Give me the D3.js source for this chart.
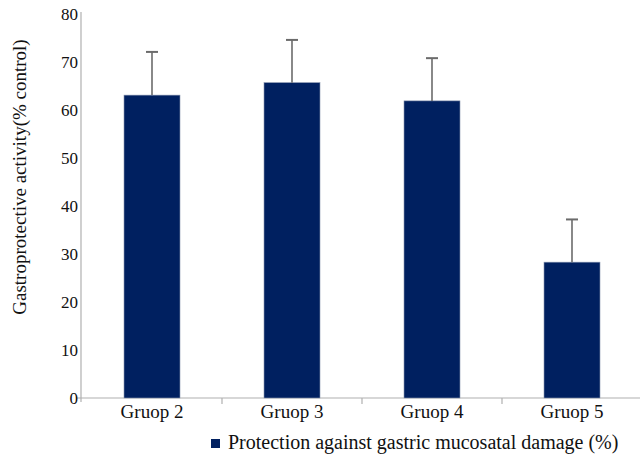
<!DOCTYPE html>
<html>
<head>
<meta charset="utf-8">
<script src="https://cdn.jsdelivr.net/npm/d3@7"></script>
<style>
  body { margin: 0; background: #fff; }
  svg text { font-family: "Liberation Serif"; fill: #111; }
</style>
</head>
<body>
<div id="chart"></div>
<script>
// values
const groups = ["Gruop 2", "Gruop 3", "Gruop 4", "Gruop 5"];
const protection = [63.1, 65.7, 61.9, 28.3];
const errors = [9.0, 8.9, 8.9, 8.9];
const yTicks = [0, 10, 20, 30, 40, 50, 60, 70, 80];

const width = 640;
const height = 458;
const barColor = "#002060";
const axisColor = "#b0b0b0";

const svg = d3.select("#chart")
    .append("svg")
    .attr("width", width)
    .attr("height", height);

const x = d3.scaleBand()
    .domain(groups)
    .range([82, 642])
    .paddingInner(0.6)
    .paddingOuter(0.3);

const y = d3.scaleLinear()
    .domain([0, 80])
    .range([398, 14]);

// axes
svg.append("line")
    .attr("x1", 81).attr("x2", 81)
    .attr("y1", y(80) - 2).attr("y2", y(0))
    .attr("stroke", axisColor).attr("stroke-width", 1.2);

svg.append("line")
    .attr("x1", 76).attr("x2", width)
    .attr("y1", y(0)).attr("y2", y(0))
    .attr("stroke", axisColor).attr("stroke-width", 1.2);

// category separators below the x axis
const step = x.step();
svg.selectAll(".sep")
    .data(groups.slice(1))
    .enter().append("line")
    .attr("x1", d => x(d) - step * 0.3)
    .attr("x2", d => x(d) - step * 0.3)
    .attr("y1", y(0)).attr("y2", y(0) + 6)
    .attr("stroke", axisColor).attr("stroke-width", 1.2);

svg.append("line")
    .attr("x1", 81).attr("x2", 81)
    .attr("y1", y(0)).attr("y2", y(0) + 4)
    .attr("stroke", axisColor).attr("stroke-width", 1.2);

svg.selectAll(".ytick")
    .data(yTicks)
    .enter().append("text")
    .attr("x", 78)
    .attr("y", d => y(d) + 6)
    .attr("text-anchor", "end")
    .style("font-size", "17px")
    .text(d => d);

svg.selectAll(".xlabel")
    .data(groups)
    .enter().append("text")
    .attr("x", d => x(d) + x.bandwidth() / 2)
    .attr("y", 418)
    .attr("text-anchor", "middle")
    .style("font-size", "19px")
    .text(d => d);

// bars
svg.selectAll(".bar")
    .data(groups)
    .enter().append("rect")
    .attr("x", d => x(d))
    .attr("y", (d, i) => y(protection[i]))
    .attr("width", x.bandwidth())
    .attr("height", (d, i) => y(0) - y(protection[i]))
    .attr("fill", barColor)
    .attr("stroke", "#8a96b0")
    .attr("stroke-width", 0.6);

// error bars (upper only)
const err = svg.selectAll(".err")
    .data(groups)
    .enter().append("g");

err.append("line")
    .attr("x1", d => x(d) + x.bandwidth() / 2)
    .attr("x2", d => x(d) + x.bandwidth() / 2)
    .attr("y1", (d, i) => y(protection[i]))
    .attr("y2", (d, i) => y(protection[i] + errors[i]))
    .attr("stroke", "#6b6b6b").attr("stroke-width", 1.6);

err.append("line")
    .attr("x1", d => x(d) + x.bandwidth() / 2 - 6)
    .attr("x2", d => x(d) + x.bandwidth() / 2 + 6)
    .attr("y1", (d, i) => y(protection[i] + errors[i]))
    .attr("y2", (d, i) => y(protection[i] + errors[i]))
    .attr("stroke", "#6b6b6b").attr("stroke-width", 2);

// y title
svg.append("text")
    .attr("transform", "translate(26, 177) rotate(-90)")
    .attr("text-anchor", "middle")
    .style("font-size", "19px")
    .text("Gastroprotective activity(% control)");

// legend
svg.append("rect")
    .attr("x", 211).attr("y", 439)
    .attr("width", 9).attr("height", 9)
    .attr("fill", barColor);

svg.append("text")
    .attr("x", 228)
    .attr("y", 449)
    .style("font-size", "20px")
    .text("Protection against gastric mucosatal damage (%)");
</script>
</body>
</html>
